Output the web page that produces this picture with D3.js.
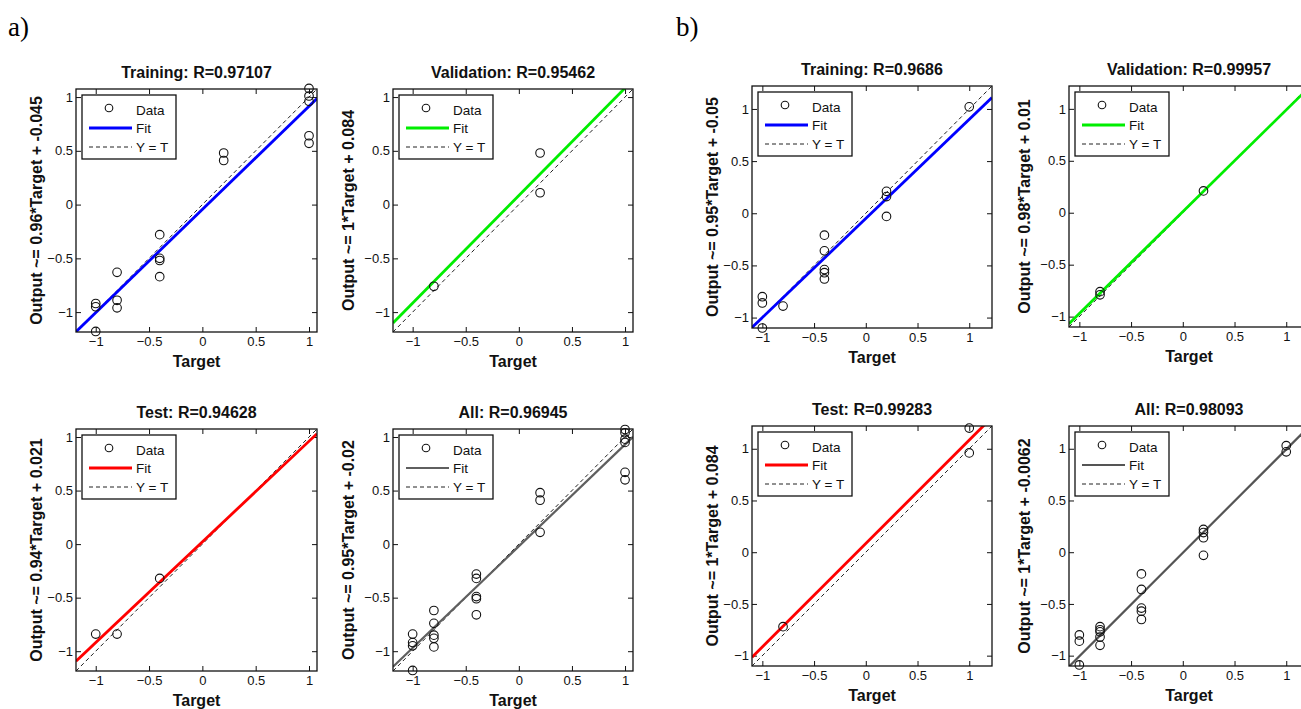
<!DOCTYPE html>
<html>
<head>
  <meta charset="utf-8">
  <title>Regression plots a) and b)</title>
  <script src="https://cdn.jsdelivr.net/npm/d3@7"></script>
  <style>
    body { margin: 0; background: #fff; overflow: hidden; }
    svg text { font-family: "Liberation Sans", Arial, sans-serif; fill: #111; }
  </style>
</head>
<body>
<script>
  // ---- data ----
  var panelLabels = ["a)", "b)"];
  var tickValues = [-1, -0.5, 0, 0.5, 1];

  var titles = [
    "Training: R=0.97107", "Validation: R=0.95462", "Test: R=0.94628", "All: R=0.96945",
    "Training: R=0.9686", "Validation: R=0.99957", "Test: R=0.99283", "All: R=0.98093"
  ];
  var yLabels = [
    "Output ~= 0.96*Target + -0.045", "Output ~= 1*Target + 0.084",
    "Output ~= 0.94*Target + 0.021", "Output ~= 0.95*Target + -0.02",
    "Output ~= 0.95*Target + -0.05", "Output ~= 0.98*Target + 0.01",
    "Output ~= 1*Target + 0.084", "Output ~= 1*Target + -0.0062"
  ];
  var fitSlopes = [0.96, 1, 0.94, 0.95, 0.95, 0.98, 1, 1];
  var fitIntercepts = [-0.045, 0.084, 0.021, -0.02, -0.05, 0.01, 0.084, -0.0062];
  var fitColors = ["#0000ff", "#00ee00", "#ff0000", "#5f5f5f", "#0000ff", "#00ee00", "#ff0000", "#555555"];

  // axis limits (same on x and y) for each figure
  var limitsA = [-1.185, 1.075];
  var limitsB = [-1.1, 1.22];

  // a) Training
  var aTrainT = [1, 1, 1, 1, 1, 0.2, 0.2, -0.4, -0.4, -0.4, -0.4, -0.8, -0.8, -0.8, -1, -1, -1];
  var aTrainY = [1.08, 1.01, 0.96, 0.64, 0.57, 0.48, 0.41, -0.28, -0.5, -0.52, -0.67, -0.63, -0.89, -0.96, -0.92, -0.95, -1.18];
  // a) Validation
  var aValT = [-0.8, 0.2, 0.2];
  var aValY = [-0.76, 0.48, 0.11];
  // a) Test
  var aTestT = [-1, -0.8, -0.4];
  var aTestY = [-0.84, -0.84, -0.32];
  // a) All
  var aAllT = [1, 1, 1, 1, 1, 1, 0.2, 0.2, 0.2, -0.4, -0.4, -0.4, -0.4, -0.4, -0.8, -0.8, -0.8, -0.8, -0.8, -1, -1, -1, -1];
  var aAllY = [1.07, 1.04, 0.98, 0.95, 0.67, 0.6, 0.48, 0.41, 0.11, -0.28, -0.32, -0.49, -0.51, -0.66, -0.62, -0.74, -0.85, -0.88, -0.96, -0.84, -0.92, -0.95, -1.18];

  // b) Training
  var bTrainT = [1, 0.2, 0.2, 0.2, -0.4, -0.4, -0.4, -0.4, -0.4, -0.8, -1, -1, -1];
  var bTrainY = [1.02, 0.21, 0.16, -0.03, -0.21, -0.36, -0.54, -0.57, -0.63, -0.89, -0.8, -0.86, -1.1];
  // b) Validation
  var bValT = [-0.8, -0.8, 0.2];
  var bValY = [-0.76, -0.79, 0.21];
  // b) Test
  var bTestT = [-0.8, 1, 1];
  var bTestY = [-0.72, 1.2, 0.96];
  // b) All
  var bAllT = [1, 1, 0.2, 0.2, 0.2, 0.2, -0.4, -0.4, -0.4, -0.4, -0.4, -0.8, -0.8, -0.8, -0.8, -0.8, -1, -1, -1];
  var bAllY = [1.03, 0.97, 0.22, 0.19, 0.14, -0.03, -0.21, -0.36, -0.54, -0.57, -0.65, -0.72, -0.75, -0.77, -0.82, -0.9, -0.8, -0.86, -1.09];

  var targets = [aTrainT, aValT, aTestT, aAllT, bTrainT, bValT, bTestT, bAllT];
  var outputs = [aTrainY, aValY, aTestY, aAllY, bTrainY, bValY, bTestY, bAllY];

  // ---- layout ----
  var width = 1301, height = 709;
  // axes boxes: left, top, width, height
  var boxes = [
    [76, 89, 241, 243], [393, 89, 240, 243], [76, 429, 241, 242], [393, 429, 240, 242],
    [752, 86, 240, 242], [1069, 86, 240, 241], [752, 426, 240, 240], [1069, 426, 240, 240]
  ];

  var svg = d3.select("body").append("svg")
    .attr("width", width)
    .attr("height", height);

  svg.append("text").text(panelLabels[0])
    .attr("x", 8).attr("y", 36)
    .style("font-family", "'Liberation Serif', 'Times New Roman', serif")
    .style("font-size", "27px").style("fill", "#000");
  svg.append("text").text(panelLabels[1])
    .attr("x", 676).attr("y", 36)
    .style("font-family", "'Liberation Serif', 'Times New Roman', serif")
    .style("font-size", "27px").style("fill", "#000");

  for (let i = 0; i < 8; i++) {
    drawPlot(i);
  }

  function drawPlot(i) {
    var b = boxes[i];
    var lim = i < 4 ? limitsA : limitsB;
    var w = b[2], h = b[3];
    var xScale = d3.scaleLinear().domain(lim).range([0, w]);
    var yScale = d3.scaleLinear().domain(lim).range([h, 0]);
    var fitWidth = (i == 3 || i == 7) ? 2.2 : 2.8;

    var g = svg.append("g")
      .attr("transform", "translate(" + b[0] + "," + b[1] + ")");

    g.append("clipPath").attr("id", "clip" + i)
      .append("rect").attr("width", w).attr("height", h);

    // ticks on all four sides, pointing inside
    g.append("g")
      .attr("transform", "translate(0," + h + ")")
      .call(d3.axisBottom(xScale).tickValues(tickValues).tickSize(-5).tickPadding(5).tickFormat(d3.format("")))
      .call(styleAxis);
    g.append("g")
      .call(d3.axisTop(xScale).tickValues(tickValues).tickSize(-5).tickFormat(""))
      .call(styleAxis);
    g.append("g")
      .call(d3.axisLeft(yScale).tickValues(tickValues).tickSize(-5).tickPadding(3).tickFormat(d3.format("")))
      .call(styleAxis);
    g.append("g")
      .attr("transform", "translate(" + w + ",0)")
      .call(d3.axisRight(yScale).tickValues(tickValues).tickSize(-5).tickFormat(""))
      .call(styleAxis);

    var plotArea = g.append("g").attr("clip-path", "url(#clip" + i + ")");

    // Y = T
    plotArea.append("line")
      .attr("x1", xScale(lim[0])).attr("y1", yScale(lim[0]))
      .attr("x2", xScale(lim[1])).attr("y2", yScale(lim[1]))
      .attr("stroke", "#222").attr("stroke-width", 1)
      .attr("stroke-dasharray", "4,3");

    // fit
    var m = fitSlopes[i], c = fitIntercepts[i];
    plotArea.append("line")
      .attr("x1", xScale(lim[0])).attr("y1", yScale(m * lim[0] + c))
      .attr("x2", xScale(lim[1])).attr("y2", yScale(m * lim[1] + c))
      .attr("stroke", fitColors[i])
      .attr("stroke-width", fitWidth);

    // box
    g.append("rect")
      .attr("width", w).attr("height", h)
      .attr("fill", "none").attr("stroke", "#111").attr("stroke-width", 1.3);

    // data
    var pts = targets[i].map(function (t, k) { return {t: t, y: outputs[i][k]}; });
    g.append("g").selectAll("circle")
      .data(pts)
      .enter()
      .append("circle")
      .attr("cx", function (d) { return xScale(d.t); })
      .attr("cy", function (d) { return yScale(d.y); })
      .attr("r", 4.3)
      .attr("fill", "none")
      .attr("stroke", "#111")
      .attr("stroke-width", 1.1);

    // legend
    var lg = g.append("g").attr("transform", "translate(6,6)");
    lg.append("rect").attr("width", 94).attr("height", 64)
      .attr("fill", "#fff").attr("stroke", "#111").attr("stroke-width", 1.3);
    lg.append("circle").attr("cx", 27).attr("cy", 13).attr("r", 3.8)
      .attr("fill", "none").attr("stroke", "#111").attr("stroke-width", 1.1);
    lg.append("line").attr("x1", 7).attr("x2", 50).attr("y1", 33).attr("y2", 33)
      .attr("stroke", fitColors[i]).attr("stroke-width", fitWidth);
    lg.append("line").attr("x1", 7).attr("x2", 50).attr("y1", 52).attr("y2", 52)
      .attr("stroke", "#222").attr("stroke-dasharray", "4,3");
    var legendNames = ["Data", "Fit", "Y = T"];
    var legendRows = [15, 33, 52];
    for (let k = 0; k < 3; k++) {
      lg.append("text").text(legendNames[k])
        .attr("x", 54).attr("y", legendRows[k]).attr("dy", "0.35em")
        .style("font-size", "13.5px");
    }

    // title
    g.append("text").text(titles[i])
      .attr("x", w / 2).attr("y", -11)
      .attr("text-anchor", "middle")
      .style("font-size", "16px").style("font-weight", "bold");

    // x label
    g.append("text").text("Target")
      .attr("x", w / 2).attr("y", h + 35)
      .attr("text-anchor", "middle")
      .style("font-size", "16px").style("font-weight", "bold");

    // y label
    g.append("text").text(yLabels[i])
      .attr("transform", "translate(" + (i % 2 == 0 ? -34 : -39) + "," + (h / 2) + ")rotate(-90)")
      .attr("text-anchor", "middle")
      .style("font-size", "16px").style("font-weight", "bold");
  }

  function styleAxis(sel) {
    sel.select(".domain").remove();
    sel.selectAll(".tick line").attr("stroke", "#111");
    sel.selectAll(".tick text")
      .style("font-size", "13px")
      .style("font-family", "'Liberation Sans', Arial, sans-serif")
      .attr("fill", "#111");
  }
</script>
</body>
</html>
